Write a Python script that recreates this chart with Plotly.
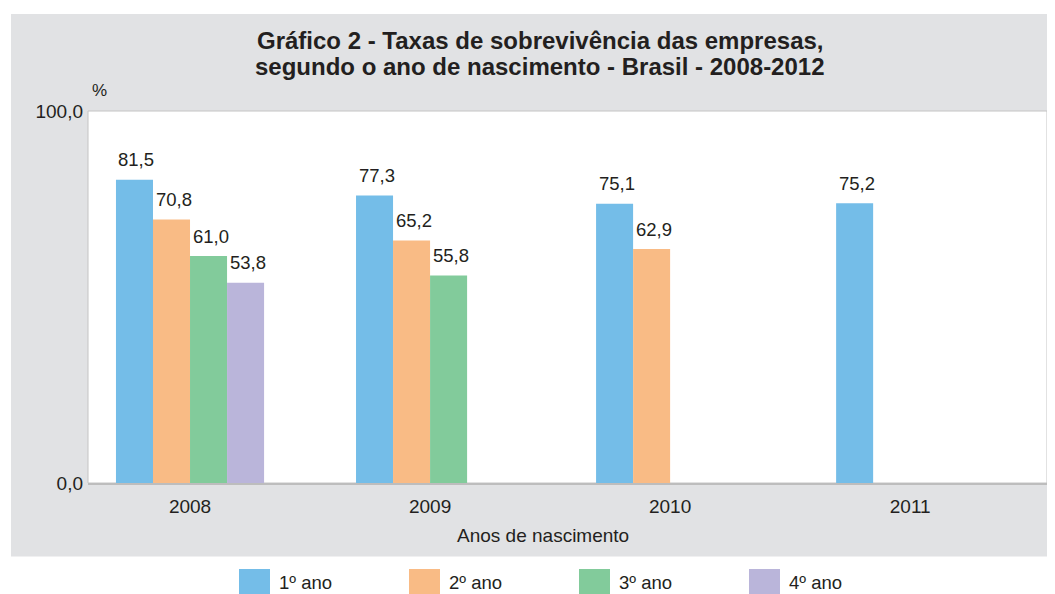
import plotly.graph_objects as go

years = ["2008", "2009", "2010", "2011"]
series_names = ["1º ano", "2º ano", "3º ano", "4º ano"]
ano1 = [81.5, 77.3, 75.1, 75.2]
ano2 = [70.8, 65.2, 62.9, None]
ano3 = [61.0, 55.8, None, None]
ano4 = [53.8, None, None, None]
series_values = [ano1, ano2, ano3, ano4]
colors = ["#74bde8", "#f9bb85", "#82cb9b", "#bab5da"]
y_ticks = [0, 100]
y_ticktext = ["0,0", "100,0"]
title_lines = ["Gráfico 2 - Taxas de sobrevivência das empresas,",
               "segundo o ano de nascimento - Brasil - 2008-2012"]

# page is offset by the default 8px body margin
OFF = 8
W, H = 1055 - OFF, 594 - OFF
PL, PR, PT, PB = 88, 1047, 111, 483   # plot area in page pixels
ML, MR, MT = PL - OFF, (W + OFF) - PR, PT - OFF
MB = H - MT - (PB - PT)
PW = PR - PL
PH = PB - PT

def px(xp):
    return (xp - PL) / PW

def py(yp):
    return (PB - yp) / PH

FONT = "Liberation Sans, Arial, sans-serif"
TXT = "#231f20"
bargap = 0.383
n = len(series_values)
xs = list(range(len(years)))

fig = go.Figure()
for name, vals, col in zip(series_names, series_values, colors):
    fig.add_trace(go.Bar(x=xs, y=vals, name=name, marker=dict(color=col, line=dict(width=0)),
                         showlegend=False))

annotations = []
bw = (1 - bargap) / n
for j, vals in enumerate(series_values):
    off = -(1 - bargap) / 2 + (j + 0.5) * bw
    for i, v in enumerate(vals):
        if v is None:
            continue
        annotations.append(dict(x=i + off, y=v, xref="x", yref="y",
                                text=f"{v:.1f}".replace(".", ","), showarrow=False,
                                xanchor="center", yanchor="middle", yshift=20, xshift=2,
                                font=dict(family=FONT, size=18.5, color=TXT)))

# title (two lines, tight spacing)
for line, yc in zip(title_lines, [40.8, 66.8]):
    annotations.append(dict(x=px(540), y=py(yc), xref="paper", yref="paper",
                            text=f"<b>{line}</b>", showarrow=False,
                            xanchor="center", yanchor="middle",
                            font=dict(family=FONT, size=24, color=TXT)))
annotations.append(dict(x=px(99), y=py(90), xref="paper", yref="paper", text="%",
                        showarrow=False, xanchor="center", yanchor="middle",
                        font=dict(family=FONT, size=17, color=TXT)))
annotations.append(dict(x=px(543), y=py(535), xref="paper", yref="paper", text="Anos de nascimento",
                        showarrow=False, xanchor="center", yanchor="middle",
                        font=dict(family=FONT, size=19, color=TXT)))

shapes = [
    dict(type="rect", xref="paper", yref="paper", x0=px(11), x1=px(1060), y0=py(556.5), y1=py(14),
         fillcolor="#e1e2e4", line=dict(width=0), layer="below"),
    dict(type="rect", xref="paper", yref="paper", x0=0, x1=1, y0=0, y1=1,
         fillcolor="#ffffff", line=dict(width=1, color="#c4c4c4"), layer="below"),
]

leg_x = [239, 409, 579, 749]
for name, col, lx in zip(series_names, colors, leg_x):
    shapes.append(dict(type="rect", xref="paper", yref="paper", x0=px(lx), x1=px(lx + 31),
                       y0=py(600), y1=py(569), fillcolor=col, line=dict(width=0)))
    annotations.append(dict(x=px(lx + 38), y=py(582.5), xref="paper", yref="paper", text=name,
                            showarrow=False, xanchor="left", yanchor="middle",
                            font=dict(family=FONT, size=18.5, color=TXT)))

fig.update_layout(
    width=W, height=H,
    margin=dict(l=ML, r=MR, t=MT, b=MB, pad=0),
    paper_bgcolor="#ffffff", plot_bgcolor="rgba(0,0,0,0)",
    barmode="group", bargap=bargap, bargroupgap=0,
    shapes=shapes, annotations=annotations,
    xaxis=dict(range=[-0.425, 3.57], tickvals=xs, ticktext=years, showgrid=False, zeroline=False,
               showline=True, linecolor="#bdbdbd", linewidth=1.5, ticks="",
               tickfont=dict(family=FONT, size=19, color=TXT), ticklabelstandoff=5),
    yaxis=dict(range=[0, 100], tickvals=y_ticks, ticktext=y_ticktext, showgrid=False, zeroline=False,
               showline=False, ticks="", tickfont=dict(family=FONT, size=19, color=TXT),
               ticklabelstandoff=4),
    showlegend=False,
)

fig.write_html("out.html")
